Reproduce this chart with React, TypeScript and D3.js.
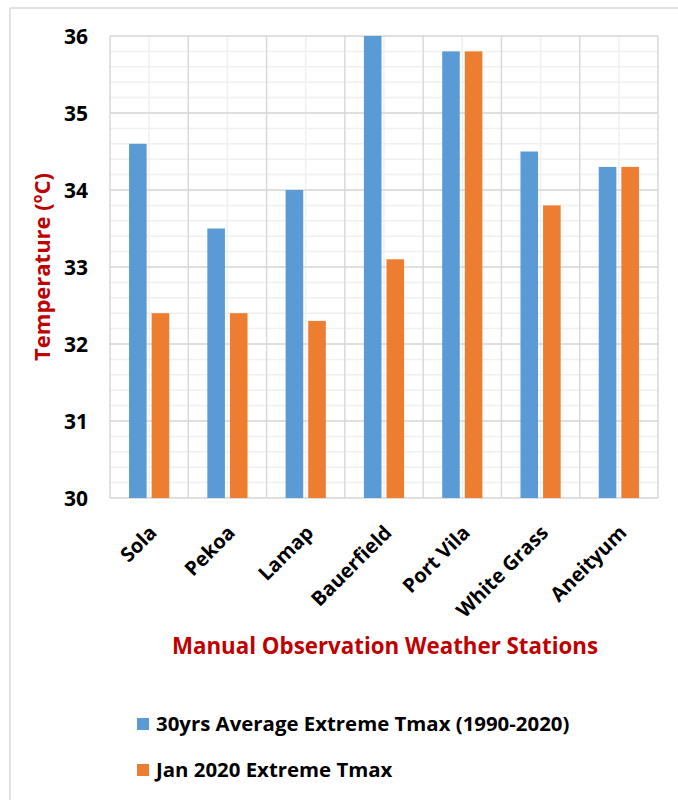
import React from "react";
import * as d3 from "d3";

const stations = ["Sola", "Pekoa", "Lamap", "Bauerfield", "Port Vila", "White Grass", "Aneityum"];
const avgExtremeTmax = [34.6, 33.5, 34.0, 36.0, 35.8, 34.5, 34.3];
const jan2020Tmax = [32.4, 32.4, 32.3, 33.1, 35.8, 33.8, 34.3];
const yTicks = [30, 31, 32, 33, 34, 35, 36];
const seriesNames = ["30yrs Average Extreme Tmax (1990-2020)", "Jan 2020 Extreme Tmax"];
const colors = ["#5b9bd5", "#ed7d31"];

const FONT = "'Open Sans', 'Liberation Sans', sans-serif";

export default function App() {
  const W = 678, H = 800;
  const left = 110, right = 658, top = 36, bottom = 498;
  const x = d3.scaleBand<string>().domain(stations).range([left, right]).paddingInner(0).paddingOuter(0);
  const y = d3.scaleLinear().domain([30, 36]).range([bottom, top]);
  const bw = x.bandwidth();
  const barW = 17.6;
  const gap = 5;
  const minorY = d3.range(30, 36.001, 0.2).map((v) => +v.toFixed(1));

  return (
    <svg width={W} height={H} style={{ position: "absolute", left: 0, top: 0, background: "#fff" }} fontFamily={FONT}>
      <rect x={0} y={0} width={W} height={H} fill="#fff" />
      {/* chart frame */}
      <line x1={10} y1={8} x2={W} y2={8} stroke="#d9d9d9" strokeWidth={1.5} />
      <line x1={10} y1={8} x2={10} y2={H} stroke="#d9d9d9" strokeWidth={1.5} />

      {/* minor gridlines */}
      {minorY.map((v) => (
        <line key={"my" + v} x1={left} x2={right} y1={y(v)} y2={y(v)} stroke="#f0f0f0" strokeWidth={1.5} />
      ))}
      {stations.map((s) => (
        <line key={"mx" + s} x1={x(s)! + bw / 2} x2={x(s)! + bw / 2} y1={top} y2={bottom} stroke="#f0f0f0" strokeWidth={1.5} />
      ))}
      {/* major gridlines */}
      {yTicks.map((v) => (
        <line key={"gy" + v} x1={left} x2={right} y1={y(v)} y2={y(v)} stroke="#d9d9d9" strokeWidth={1.5} />
      ))}
      {[...stations.map((s) => x(s)!), right].map((xx, i) => (
        <line key={"gx" + i} x1={xx} x2={xx} y1={top} y2={bottom} stroke="#d9d9d9" strokeWidth={1.5} />
      ))}

      {/* bars */}
      {stations.map((s, i) => {
        const cx = x(s)! + bw / 2;
        return (
          <g key={"b" + s}>
            <rect x={cx - gap / 2 - barW} y={y(avgExtremeTmax[i])} width={barW} height={bottom - y(avgExtremeTmax[i])} fill={colors[0]} />
            <rect x={cx + gap / 2} y={y(jan2020Tmax[i])} width={barW} height={bottom - y(jan2020Tmax[i])} fill={colors[1]} />
          </g>
        );
      })}

      {/* y tick labels */}
      {yTicks.map((v) => (
        <text key={"yt" + v} x={88} y={y(v)} dy="0.36em" textAnchor="end" fontSize={21} fontWeight="bold" fill="#000">
          {v}
        </text>
      ))}

      {/* x tick labels */}
      {stations.map((s) => {
        const cx = x(s)! + bw / 2;
        return (
          <text key={"xt" + s} transform={`translate(${cx + 4},${529}) rotate(-45)`} textAnchor="end" dy="0.35em" fontSize={20} fontWeight="bold" fill="#000">
            {s}
          </text>
        );
      })}

      {/* axis titles */}
      <text transform={`translate(50,${(top + bottom) / 2}) rotate(-90)`} textAnchor="middle" fontSize={22} fontWeight="bold" fill="#c00000">
        Temperature (<tspan fontSize={14} dy={-8}>o</tspan><tspan dy={8}>C)</tspan>
      </text>
      <text x={385} y={654} textAnchor="middle" fontSize={22.3} fontWeight="bold" fill="#c00000">
        Manual Observation Weather Stations
      </text>

      {/* legend */}
      {seriesNames.map((n, i) => (
        <g key={"lg" + i} transform={`translate(137,${718 + i * 46})`}>
          <rect x={0} y={0} width={12} height={12} fill={colors[i]} />
          <text x={19} y={6} dy="0.36em" fontSize={20.4} fontWeight="bold" fill="#000">
            {n}
          </text>
        </g>
      ))}
    </svg>
  );
}
